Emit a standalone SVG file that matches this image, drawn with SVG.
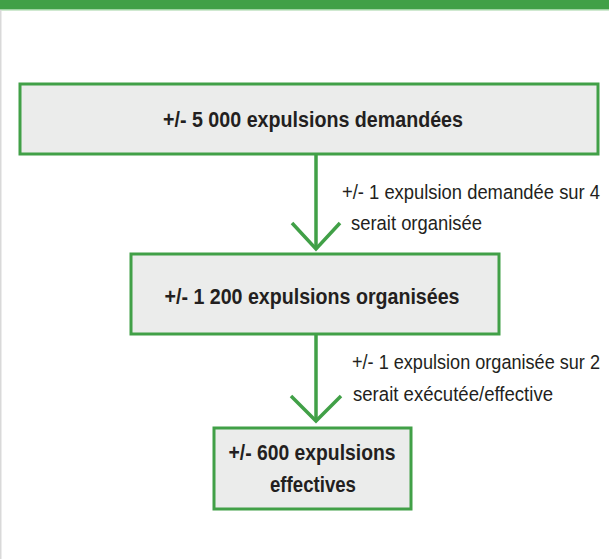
<svg xmlns="http://www.w3.org/2000/svg" width="609" height="559" viewBox="0 0 609 559">
  <style>
    .box { fill: #ebeceb; stroke: #41a047; stroke-width: 3; }
    .title { font-family: "Liberation Sans", Arial, sans-serif; font-weight: bold; font-size: 22px; fill: #231f20; text-anchor: middle; }
    .note { font-family: "Liberation Sans", Arial, sans-serif; font-size: 18px; fill: #231f20; }
    .link { fill: none; stroke: #41a047; stroke-width: 3.5; }
  </style>
  <rect x="0" y="0" width="609" height="559" fill="#ffffff"/>
  <!-- header band -->
  <rect x="0" y="0" width="609" height="9" fill="#41a047"/>
  <rect x="0" y="9" width="609" height="1.5" fill="#9fd3a2"/>
  <rect x="0" y="10" width="1.5" height="549" fill="#d9d9d9"/>

  <g id="connectors">
    <g id="link-1">
      <line class="link" x1="316" y1="154" x2="316" y2="249"/>
      <polyline class="link" points="292,223 316,249 340,223"/>
    </g>
    <g id="link-2">
      <line class="link" x1="316" y1="334" x2="316" y2="421"/>
      <polyline class="link" points="291,396 316,421 341,396"/>
    </g>
    <!-- labels drawn slightly taller than wide to mimic a condensed face -->
    <text class="note" transform="translate(342 199) scale(1 1.16)" textLength="258" lengthAdjust="spacingAndGlyphs">+/- 1 expulsion demandée sur 4</text>
    <text class="note" transform="translate(351 230) scale(1 1.16)" textLength="131" lengthAdjust="spacingAndGlyphs">serait organisée</text>
    <text class="note" transform="translate(352 369) scale(1 1.16)" textLength="248" lengthAdjust="spacingAndGlyphs">+/- 1 expulsion organisée sur 2</text>
    <text class="note" transform="translate(353 401) scale(1 1.16)" textLength="200" lengthAdjust="spacingAndGlyphs">serait exécutée/effective</text>
  </g>

  <g id="node-demandees">
    <rect class="box" x="20" y="84" width="578" height="70"/>
    <text class="title" x="313" y="127" textLength="300" lengthAdjust="spacingAndGlyphs">+/- 5 000 expulsions demandées</text>
  </g>
  <g id="node-organisees">
    <rect class="box" x="131" y="254" width="368" height="80"/>
    <text class="title" x="312" y="304" textLength="295" lengthAdjust="spacingAndGlyphs">+/- 1 200 expulsions organisées</text>
  </g>
  <g id="node-effectives">
    <rect class="box" x="214" y="428" width="197" height="81"/>
    <text class="title" x="312" y="460" textLength="167" lengthAdjust="spacingAndGlyphs">+/- 600 expulsions</text>
    <text class="title" x="313" y="492" textLength="86" lengthAdjust="spacingAndGlyphs">effectives</text>
  </g>
</svg>
